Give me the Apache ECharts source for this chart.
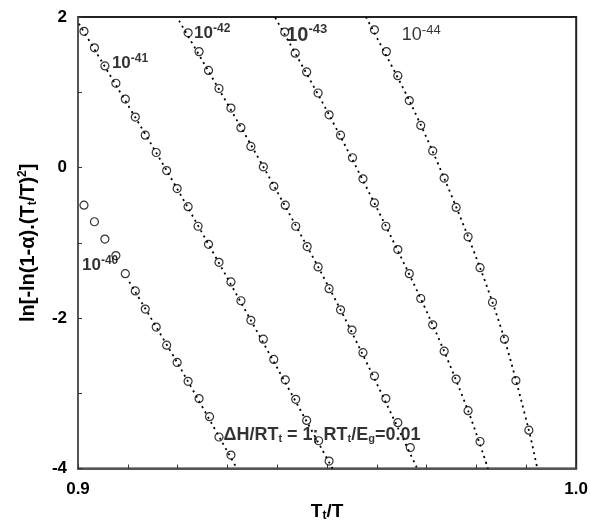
<!DOCTYPE html>
<html>
<head>
<meta charset="utf-8">
<script src="https://cdn.jsdelivr.net/npm/echarts@6/dist/echarts.min.js"></script>
<style>html,body{margin:0;padding:0;background:#fff}#c{width:591px;height:527px}</style>
</head>
<body>
<div id="c"></div>
<script>
// ---- data ----
const x40 = [0.9012,0.9033,0.9054,0.9076,0.9095,0.9115,0.9135,0.9157,0.9178,0.9199,0.9221,0.9243,0.9264,0.9283,0.9307];
const y40 = [-0.50,-0.72,-0.95,-1.17,-1.41,-1.64,-1.88,-2.12,-2.36,-2.59,-2.84,-3.07,-3.31,-3.58,-3.82];

const x41 = [0.9012,0.9033,0.9054,0.9076,0.9095,0.9115,0.9135,0.9157,0.9178,0.9199,0.9221,0.9241,0.9262,0.9283,0.9307,0.9327,0.9347,0.9372,0.9393,0.9416,0.9437,0.9459,0.9483,0.9504];
const y41 = [1.81,1.59,1.35,1.12,0.91,0.67,0.43,0.20,-0.04,-0.28,-0.52,-0.78,-1.02,-1.26,-1.52,-1.77,-2.03,-2.28,-2.55,-2.82,-3.08,-3.36,-3.63,-3.90];

const x42 = [0.9221,0.9243,0.9262,0.9283,0.9307,0.9327,0.9347,0.9372,0.9393,0.9416,0.9437,0.9460,0.9482,0.9504,0.9527,0.9550,0.9572,0.9595,0.9618,0.9642,0.9667];
const y42 = [1.79,1.54,1.29,1.05,0.79,0.53,0.28,0.01,-0.25,-0.50,-0.78,-1.05,-1.32,-1.61,-1.89,-2.16,-2.46,-2.77,-3.07,-3.39,-3.72];

const x43 = [0.9415,0.9436,0.9459,0.9482,0.9504,0.9527,0.9551,0.9572,0.9595,0.9618,0.9642,0.9665,0.9688,0.9712,0.9735,0.9759,0.9783,0.9807];
const y43 = [1.80,1.52,1.27,0.99,0.70,0.43,0.13,-0.15,-0.47,-0.78,-1.09,-1.41,-1.74,-2.09,-2.44,-2.81,-3.23,-3.64];

const x44 = [0.9595,0.9619,0.9642,0.9665,0.9688,0.9712,0.9735,0.9759,0.9783,0.9807,0.9832,0.9856,0.9879,0.9905];
const y44 = [1.83,1.54,1.22,0.89,0.56,0.22,-0.14,-0.53,-0.92,-1.33,-1.79,-2.28,-2.83,-3.49];

// dotted fit curves
const fx40 = [0.9103,0.9199,0.9319];
const fy40 = [-1.52,-2.59,-4.00];
const fx41 = [0.9002,0.9178,0.9347,0.9511];
const fy41 = [1.91,-0.04,-2.03,-4.00];
const fx42 = [0.9203,0.9372,0.9527,0.9681];
const fy42 = [1.95,0.01,-1.89,-4.00];
const fx43 = [0.9396,0.9504,0.9618,0.9712,0.9783,0.9823];
const fy43 = [1.99,0.70,-0.78,-2.09,-3.23,-4.00];
const fx44 = [0.9578,0.9665,0.9735,0.9807,0.9856,0.9905,0.9922];
const fy44 = [2.00,0.89,-0.14,-1.33,-2.28,-3.49,-4.00];

// annotations
const labelX = [0.9008, 0.9068, 0.9233, 0.9418, 0.9650, 0.9292];
const labelY = [-1.30, 1.38, 1.78, 1.76, 1.76, -3.55];
const labelText = [
  '{n|10}{s|-40}',
  '{n|10}{s|-41}',
  '{n|10}{s|-42}',
  '{b|10}{bs|-43}',
  '{r|10}{rs|-44}',
  '{t|ΔH/RT}{tb|t}{t| = 1; RT}{tb|t}{t|/E}{tb|g}{t|=0.01}'
];

const xTicksLabelled = [0.9, 1.0];
const yTicksLabelled = [-4, -2, 0, 2];

// ---- chart ----
const zip = (a, b) => a.map((v, i) => [v, b[i]]);
const ch = echarts.init(document.getElementById('c'), null, {renderer: 'canvas'});
const FONT = 'Liberation Sans, Arial, Helvetica, sans-serif';

const scatter = (xs, ys) => ({
  type: 'scatter', data: zip(xs, ys), symbol: 'circle', symbolSize: 8,
  itemStyle: {color: 'rgba(255,255,255,0)', borderColor: '#000', borderWidth: 1.2},
  z: 3, silent: true
});
const fit = (xs, ys) => ({
  type: 'line', data: zip(xs, ys), showSymbol: false, symbol: 'none', smooth: 0.3,
  lineStyle: {color: '#000', width: 1.8, type: [2, 4]}, z: 2, silent: true
});

const rich = {
  n: {fontSize: 17, fontWeight: 'bold', fontFamily: FONT, color: '#000'},
  s: {fontSize: 12, fontWeight: 'bold', fontFamily: FONT, color: '#000', verticalAlign: 'top', padding: [0,0,10,0]},
  b: {fontSize: 20, fontWeight: 'bold', fontFamily: FONT, color: '#000'},
  bs: {fontSize: 13, fontWeight: 'bold', fontFamily: FONT, color: '#000', verticalAlign: 'top', padding: [0,0,12,0]},
  r: {fontSize: 18, fontFamily: FONT, color: '#000'},
  rs: {fontSize: 13, fontFamily: FONT, color: '#000', verticalAlign: 'top', padding: [0,0,10,0]},
  t: {fontSize: 18, fontWeight: 'bold', fontFamily: FONT, color: '#000'},
  tb: {fontSize: 11, fontWeight: 'bold', fontFamily: FONT, color: '#000', padding: [8,0,0,0]}
};

const annotations = {
  type: 'scatter', symbolSize: 0, silent: true, z: 5,
  data: labelX.map((x, i) => ({value: [x, labelY[i]], text: labelText[i]})),
  label: {
    show: true, position: [0, 0], align: 'left', verticalAlign: 'middle',
    formatter: p => p.data.text, rich: rich
  }
};

ch.setOption({
  animation: false,
  backgroundColor: '#fff',
  grid: {left: 78, right: 10, top: 17, bottom: 53, show: true, borderColor: '#222', borderWidth: 2, backgroundColor: 'transparent'},
  xAxis: {
    type: 'value', min: 0.9, max: 1.0, interval: 0.01,
    name: '{a|T}{sb|t}{a|/T}', nameLocation: 'middle', nameGap: 33,
    nameTextStyle: {rich: {
      a: {fontSize: 19, fontWeight: 'bold', fontFamily: FONT, color: '#000'},
      sb: {fontSize: 12, fontWeight: 'bold', fontFamily: FONT, color: '#000', padding: [8,0,0,0]}
    }},
    splitLine: {show: false},
    axisLine: {show: true, onZero: false, lineStyle: {color: '#555', width: 2}},
    axisTick: {show: true, inside: true, length: 4, lineStyle: {color: '#333', width: 1}},
    axisLabel: {
      margin: 12, color: '#000', fontSize: 17, fontWeight: 'bold', fontFamily: FONT,
      formatter: v => { const m = xTicksLabelled.find(t => Math.abs(t - v) < 1e-9); return m === undefined ? '' : m.toFixed(1); }
    }
  },
  yAxis: {
    type: 'value', min: -4, max: 2, interval: 1,
    name: '{a|ln[-ln(1-α).(T}{sb|t}{a|/T)}{sp|2}{a|]}', nameLocation: 'middle', nameGap: 38, nameRotate: 90,
    nameTextStyle: {rich: {
      a: {fontSize: 20, fontWeight: 'bold', fontFamily: FONT, color: '#000'},
      sb: {fontSize: 12, fontWeight: 'bold', fontFamily: FONT, color: '#000', padding: [8,0,0,0]},
      sp: {fontSize: 12, fontWeight: 'bold', fontFamily: FONT, color: '#000', padding: [0,0,11,0]}
    }},
    splitLine: {show: false},
    axisLine: {show: true, onZero: false, lineStyle: {color: '#555', width: 2}},
    axisTick: {show: true, inside: true, length: 4, lineStyle: {color: '#333', width: 1}},
    axisLabel: {
      margin: 11, color: '#000', fontSize: 17, fontWeight: 'bold', fontFamily: FONT,
      formatter: v => yTicksLabelled.some(t => Math.abs(t - v) < 1e-9) ? String(Math.round(v)) : ''
    }
  },
  series: [
    fit(fx40, fy40), fit(fx41, fy41), fit(fx42, fy42), fit(fx43, fy43), fit(fx44, fy44),
    scatter(x40, y40), scatter(x41, y41), scatter(x42, y42), scatter(x43, y43), scatter(x44, y44),
    annotations
  ]
});
</script>
</body>
</html>
